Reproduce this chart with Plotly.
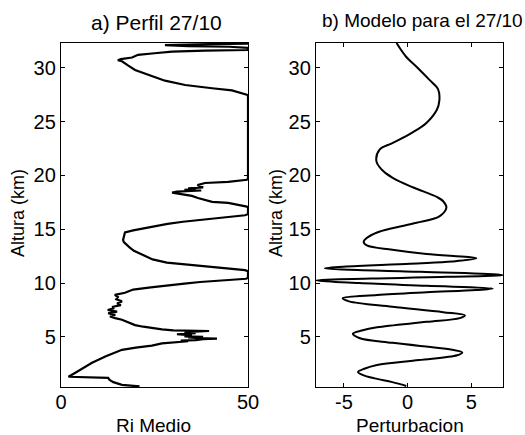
import plotly.graph_objects as go

# ---- Panel a) Perfil 27/10 : Ri medio vs altura ----
alt_a = [0.40, 0.45, 0.55, 0.8, 1.0, 1.2, 1.25, 1.3, 1.6, 2.0, 2.6, 3.2, 3.8, 4.0, 4.2, 4.4,
         4.5, 4.6, 4.65, 4.7, 4.8, 4.85, 4.9, 4.95, 5.0, 5.05, 5.15, 5.25, 5.35, 5.45, 5.55,
         5.6, 5.7, 5.8, 5.95, 6.1, 6.3, 6.5, 6.6, 6.75, 6.9, 7.05, 7.2, 7.35, 7.5, 7.65, 7.8,
         7.95, 8.1, 8.3, 8.5, 8.7, 8.9, 9.1, 9.25, 9.4, 9.6, 9.8, 9.95, 10.1, 10.25, 10.4,
         10.5, 11.1, 11.2, 11.4, 11.65, 11.9, 12.2, 12.6, 13.0, 13.3, 13.6, 13.8, 14.0, 14.3,
         14.7, 14.9, 15.2, 15.5, 15.7, 15.9, 16.1, 16.3, 16.4, 17.05, 17.1, 17.45, 17.55, 17.7,
         17.9, 18.1, 18.2, 18.3, 18.4, 18.5, 18.6, 18.65, 18.75, 18.8, 18.9, 19.1, 19.3, 19.4,
         19.6, 19.7, 27.45, 27.5, 27.9, 28.1, 28.4, 28.8, 29.1, 29.4, 29.8, 30.2, 30.6, 30.7,
         30.8, 30.95, 31.2, 31.35, 31.5, 31.6, 31.62, 31.65, 31.85, 31.95, 32.0, 32.1, 32.2,
         32.25]
ri_a = [21, 19, 16.3, 14, 13, 12.6, 6, 2.0, 3.5, 5.5, 8.3, 12, 16.3, 20, 24.3, 27,
        30, 34, 32, 36, 38, 41.7, 36, 34, 38, 33, 35, 31, 36, 33, 39.6,
        30, 27, 24.3, 22, 19.8, 18.5, 17, 16.3, 14.5, 13.1, 14.5, 12.6, 15, 12.5, 14, 13.9,
        16, 15, 16.3, 14.8, 15.2, 14.4, 17.1, 18.5, 19.3, 24, 28.3, 33, 37.2, 44, 49.5,
        50, 50, 49.2, 43, 37.2, 28.3, 24.5, 21.9, 19.5, 18.4, 17.3, 16.8, 16.6, 16.9,
        17.1, 19.3, 23.8, 28.5, 32.6, 38, 44.4, 49.2, 50, 50, 49.7, 44.7, 40.4, 38.5,
        36.6, 35.0, 33, 31.3, 29.7, 31, 37.5, 33, 36, 34, 38, 36.5, 38.5, 44.7,
        49.7, 50, 50, 49.7, 45.7, 40.4, 33.2, 27.8, 25.5, 23.3, 19.8, 18, 16.3, 15.2,
        16, 19, 20.6, 25, 29.7, 38.5, 49.7, 50, 50, 45, 34, 27.8, 40,
        50]

# ---- Panel b) Modelo para el 27/10 : perturbacion vs altura ----
alt_b = [0.45, 0.8, 1.15, 1.45, 1.75, 2.05, 2.4, 2.85, 3.3, 3.55, 3.85, 4.0, 4.45, 4.9,
         5.3, 5.6, 5.9, 6.4, 6.75, 7.0, 7.3, 7.8, 8.3, 8.6, 8.9, 9.15, 9.35, 9.5, 9.75,
         10.0, 10.25, 10.5, 10.75, 11.05, 11.38, 11.8, 12.0, 12.3, 12.7, 13.1, 13.5, 13.85,
         14.2, 14.7, 15.1, 15.6, 16.2, 17.0, 17.6, 18.0, 18.9, 19.8, 20.5, 21.3, 22.4, 23.0,
         24.0, 24.9, 26.1, 27.0, 28.0, 28.9, 30.1, 31.0, 32.3]
pert_b = [-0.1, -1.2, -2.6, -3.5, -3.9, -3.4, -2.4, 0.9, 3.9, 4.3, 3.3, 2.3, -1.2, -3.8,
          -4.3, -3.6, -2.4, 1.5, 4.1, 4.5, 2.8, -1.2, -4.6, -5.1, -2.4, 1.5, 5.4, 6.7, 1.5,
          -3.8, -7.2, 0.0, 7.5, 1.0, -6.5, 0.2, 3.5, 5.4, 1.5, -1.2, -3.2, -3.45,
          -3.2, -2.4, -1.2, 0.7, 2.5, 3.05, 2.8, 2.3, 0.4, -1.2, -2.0, -2.45, -2.2, -1.2,
          0.4, 1.5, 2.3, 2.5, 2.4, 1.7, 0.7, -0.1, -0.87]

ytick_vals = [5, 10, 15, 20, 25, 30]
ytick_text = ["5", "10", "15", "20", "25", "30"]
xtick_a = [0, 50]
xtick_a_text = ["0", "50"]
xtick_b = [-5, 0, 5]
xtick_b_text = ["-5", "0", "5"]

titles = ["a) Perfil 27/10", "b) Modelo para el 27/10"]
xlabels = ["Ri Medio", "Perturbacion"]
ylabel = "Altura (km)"

W, H = 525, 435
FONT = "Liberation Sans, Arial, Helvetica, sans-serif"
FS = 20

fig = go.Figure()
fig.add_trace(go.Scatter(x=ri_a, y=alt_a, mode="lines",
                         line=dict(color="black", width=2.2),
                         xaxis="x", yaxis="y", showlegend=False))
fig.add_trace(go.Scatter(x=pert_b, y=alt_b, mode="lines",
                         line=dict(color="black", width=2, shape="spline", smoothing=1.0),
                         xaxis="x2", yaxis="y2", showlegend=False))

ydom = [48 / H, 392 / H]
common = dict(showgrid=False, zeroline=False, showline=True, linecolor="black",
              linewidth=1.3, mirror="ticks", ticks="inside", ticklen=4,
              tickcolor="black", tickwidth=1, automargin=False,
              tickfont=dict(family=FONT, size=FS, color="black"))

fig.update_layout(
    width=W, height=H,
    margin=dict(l=0, r=0, t=0, b=0),
    paper_bgcolor="white", plot_bgcolor="white",
    template=None,
    xaxis=dict(domain=[61 / W, 248 / W], range=[0, 50], tickvals=xtick_a,
               ticktext=xtick_a_text, anchor="y", ticklabelstandoff=-3, **common),
    yaxis=dict(domain=ydom, range=[0.35, 32.3], tickvals=ytick_vals,
               ticktext=ytick_text, anchor="x", **common),
    xaxis2=dict(domain=[316 / W, 503 / W], range=[-7.2, 7.5], tickvals=xtick_b,
                ticktext=xtick_b_text, anchor="y2", ticklabelstandoff=-3, **common),
    yaxis2=dict(domain=ydom, range=[0.35, 32.3], tickvals=ytick_vals,
                ticktext=ytick_text, anchor="x2", **common),
)

anns = [
    dict(text=titles[0], x=156 / W, y=1 - 22 / H, font_size=21),
    dict(text=titles[1], x=422 / W, y=1 - 21 / H, font_size=19),
    dict(text=xlabels[0], x=153 / W, y=1 - 425 / H, font_size=19),
    dict(text=xlabels[1], x=410 / W, y=1 - 425 / H, font_size=19),
    dict(text=ylabel, x=18 / W, y=1 - 213 / H, textangle=-90, font_size=18),
    dict(text=ylabel, x=276 / W, y=1 - 213 / H, textangle=-90, font_size=18),
]
for a in anns:
    fs = a.pop("font_size")
    fig.add_annotation(xref="paper", yref="paper", showarrow=False,
                       xanchor="center", yanchor="middle",
                       font=dict(family=FONT, size=fs, color="black"), **a)

fig.write_html("out.html")
